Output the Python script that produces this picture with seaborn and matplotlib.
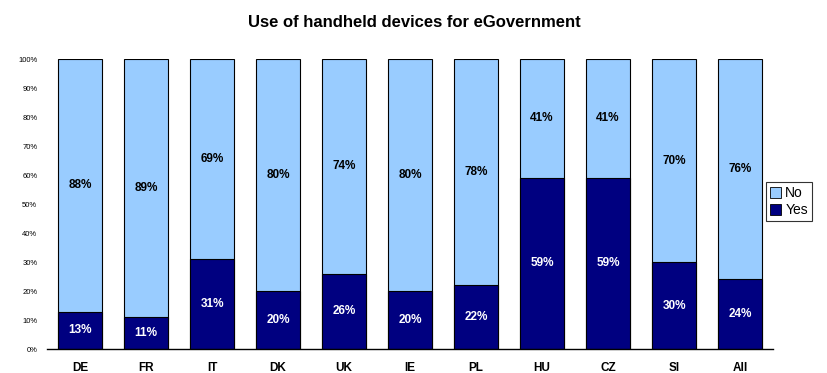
import matplotlib
matplotlib.use("Agg")
import matplotlib.pyplot as plt
import seaborn as sns
import pandas as pd
from matplotlib.patches import Patch

countries = ["DE", "FR", "IT", "DK", "UK", "IE", "PL", "HU", "CZ", "SI", "All"]
yes_pct = [13, 11, 31, 20, 26, 20, 22, 59, 59, 30, 24]
no_pct = [88, 89, 69, 80, 74, 80, 78, 41, 41, 70, 76]
y_ticks = [0, 10, 20, 30, 40, 50, 60, 70, 80, 90, 100]

sns.set_theme(style="white")
plt.rcParams['font.family'] = ['Liberation Sans', 'DejaVu Sans']
plt.rcParams['text.color'] = 'black'
plt.rcParams['xtick.color'] = 'black'
plt.rcParams['ytick.color'] = 'black'
plt.rcParams['axes.labelcolor'] = 'black'

yes_share = [100 * y / (y + n) for y, n in zip(yes_pct, no_pct)]
df = pd.DataFrame({"country": countries, "yes": yes_share, "total": [100.0] * len(countries)})

fig = plt.figure(figsize=(8.28, 3.73), dpi=100)
ax = fig.add_axes([0.0568, 0.0643, 0.8768, 0.7775])

light = "#99CCFF"
navy = "#000080"
sns.barplot(data=df, x="country", y="total", color=light, edgecolor="black",
            linewidth=0.8, width=0.67, saturation=1, ax=ax)
sns.barplot(data=df, x="country", y="yes", color=navy, edgecolor="black",
            linewidth=0.8, width=0.67, saturation=1, ax=ax)

for i, (ys, y, n) in enumerate(zip(yes_share, yes_pct, no_pct)):
    ax.text(i, ys / 2, f"{y}%", ha="center", va="center", color="white",
            fontsize=8.5, fontweight="bold")
    ax.text(i, ys + (100 - ys) / 2, f"{n}%", ha="center", va="center", color="black",
            fontsize=8.5, fontweight="bold")

ax.set_ylim(0, 100)
ax.set_xlim(-0.5, len(countries) - 0.5)
ax.set_yticks(y_ticks)
ax.set_yticklabels([f"{t}%" for t in y_ticks], fontsize=5.5)
ax.tick_params(axis="y", length=0, pad=7)
ax.tick_params(axis="x", length=0, pad=9)
for lab in ax.get_xticklabels():
    lab.set_fontsize(8.5)
    lab.set_fontweight("bold")
ax.set_xlabel("")
ax.set_ylabel("")
for s in ["top", "right", "left"]:
    ax.spines[s].set_visible(False)
ax.spines["bottom"].set_color("black")
ax.spines["bottom"].set_linewidth(1)

fig.suptitle("Use of handheld devices for eGovernment", x=0.5, y=0.96,
             fontsize=12, fontweight="bold", color="black")

handles = [Patch(facecolor=light, edgecolor="black", linewidth=0.6, label="No"),
           Patch(facecolor=navy, edgecolor="black", linewidth=0.6, label="Yes")]
leg = ax.legend(handles=handles, loc="upper left", bbox_to_anchor=(0.99, 0.575),
                fontsize=10, frameon=True, fancybox=False, edgecolor="black",
                handlelength=0.8, handleheight=0.8, handletextpad=0.3,
                borderpad=0.3, labelspacing=0.2, borderaxespad=0)
leg.get_frame().set_linewidth(0.8)

fig.savefig("out.png", dpi=100)
